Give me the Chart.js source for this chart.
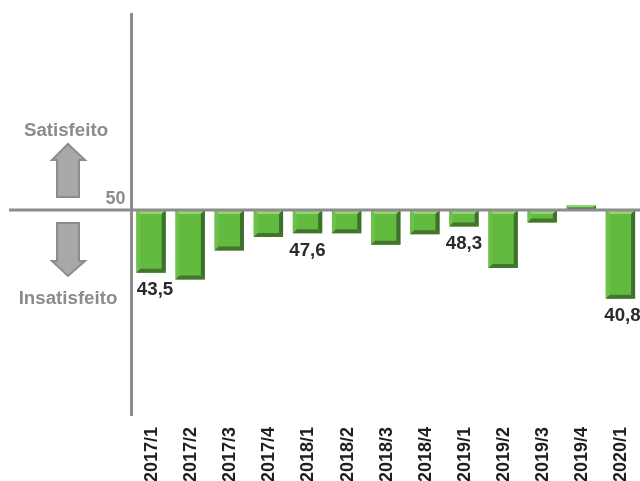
<!DOCTYPE html>
<html>
<head>
<meta charset="utf-8">
<style>
html,body{margin:0;padding:0;background:#fff;overflow:hidden}
#wrap{position:relative;width:640px;height:481px}
</style>
<script src="https://cdn.jsdelivr.net/npm/chart.js@4"></script>
</head>
<body>
<div id="wrap"><canvas id="c" width="640" height="481"></canvas></div>
<script>
// Quarterly satisfaction index, centred on the neutral value of 50
const categories = ['2017/1','2017/2','2017/3','2017/4','2018/1','2018/2','2018/3','2018/4','2019/1','2019/2','2019/3','2019/4','2020/1'];
const indexValues = [43.5,42.8,45.8,47.2,47.6,47.6,46.4,47.5,48.3,44.0,48.7,50.5,40.8];
const labelledQuarters = ['2017/1','2018/1','2019/1','2020/1'];
const neutralValue = 50;
const axisMin = 28.76;
const axisMax = 70.31;

const GREY = '#8c8c8c';
const FONT = '"Liberation Sans", Arial, sans-serif';

// Green bars with a bevelled edge, painted over each bar element
const bevelPlugin = {
  id: 'bevel',
  afterDatasetsDraw(chart) {
    const ctx = chart.ctx;
    chart.getDatasetMeta(0).data.forEach(bar => {
      const l = bar.x - bar.width / 2, r = bar.x + bar.width / 2;
      const t = Math.min(bar.y, bar.base), b = Math.max(bar.y, bar.base);
      const e = Math.min(4, (b - t) / 2);
      const poly = (pts, col) => {
        ctx.fillStyle = col;
        ctx.beginPath();
        pts.forEach((p, i) => i ? ctx.lineTo(p[0], p[1]) : ctx.moveTo(p[0], p[1]));
        ctx.closePath();
        ctx.fill();
      };
      ctx.save();
      poly([[l,t],[r,t],[r-e,t+e],[l+e,t+e]], '#93d473');
      poly([[l,t],[l+e,t+e],[l+e,b-e],[l,b]], '#6cc04b');
      poly([[r,t],[r,b],[r-e,b-e],[r-e,t+e]], '#3f6f2c');
      poly([[l,b],[l+e,b-e],[r-e,b-e],[r,b]], '#44752f');
      ctx.restore();
    });
  }
};

// Neutral line, direction arrows, side captions and value labels
const annotationPlugin = {
  id: 'annotations',
  afterDatasetsDraw(chart) {
    const ctx = chart.ctx;
    const yScale = chart.scales.y;
    const y0 = yScale.getPixelForValue(neutralValue);
    ctx.save();
    ctx.strokeStyle = GREY;
    ctx.lineWidth = 3;
    ctx.beginPath();
    ctx.moveTo(9, y0);
    ctx.lineTo(640, y0);
    ctx.stroke();

    const arrow = pts => {
      ctx.fillStyle = '#a8a8a8';
      ctx.strokeStyle = GREY;
      ctx.lineWidth = 2;
      ctx.lineJoin = 'miter';
      ctx.beginPath();
      pts.forEach((p, i) => i ? ctx.lineTo(p[0], p[1]) : ctx.moveTo(p[0], p[1]));
      ctx.closePath();
      ctx.fill();
      ctx.stroke();
    };
    arrow([[68,144],[85,160],[79,160],[79,197],[57,197],[57,160],[52,160]]);
    arrow([[57,223],[79,223],[79,261],[85,261],[68,276],[52,261],[57,261]]);

    ctx.font = 'bold 18.7px ' + FONT;
    ctx.textAlign = 'center';
    ctx.textBaseline = 'middle';
    ctx.fillStyle = GREY;
    ctx.fillText('Satisfeito', 66, 131);
    ctx.fillText('Insatisfeito', 68, 299);

    ctx.fillStyle = '#2b2b2b';
    const bars = chart.getDatasetMeta(0).data;
    const nudge = { '2017/1': 4, '2020/1': 2 };
    categories.forEach((cat, i) => {
      if (!labelledQuarters.includes(cat)) return;
      const text = indexValues[i].toFixed(1).replace('.', ',');
      ctx.fillText(text, bars[i].x + (nudge[cat] || 0), bars[i].y + 17.5);
    });
    ctx.restore();
  }
};

new Chart(document.getElementById('c'), {
  type: 'bar',
  data: {
    labels: categories,
    datasets: [{
      data: indexValues,
      base: neutralValue,
      backgroundColor: '#62bb3e',
      borderWidth: 0,
      barPercentage: 0.75,
      categoryPercentage: 1
    }]
  },
  options: {
    responsive: false,
    animation: false,
    layout: { padding: { top: 14, right: -1, bottom: 0, left: 0 } },
    plugins: { legend: { display: false }, tooltip: { enabled: false } },
    scales: {
      x: {
        grid: { display: false, drawTicks: false },
        border: { display: false },
        afterFit(scale) {
          scale.height = 66;
          scale.paddingLeft = 0;
          scale.paddingRight = 0;
        },
        ticks: {
          autoSkip: false,
          minRotation: 90,
          maxRotation: 90,
          padding: 12,
          labelOffset: 1,
          color: '#1f1f1f',
          font: { family: FONT, size: 18, weight: 'bold' }
        }
      },
      y: {
        min: axisMin,
        max: axisMax,
        grid: { display: false, drawTicks: false },
        border: { display: true, color: GREY, width: 3 },
        afterFit(scale) {
          scale.width = 131.5;
          scale.paddingTop = 0;
          scale.paddingBottom = 0;
        },
        afterBuildTicks(scale) { scale.ticks = [{ value: neutralValue }]; },
        ticks: {
          padding: 6,
          color: GREY,
          font: { family: FONT, size: 18, weight: 'bold' },
          callback: v => [String(v), '']
        }
      }
    }
  },
  plugins: [bevelPlugin, annotationPlugin]
});
</script>
</body>
</html>
